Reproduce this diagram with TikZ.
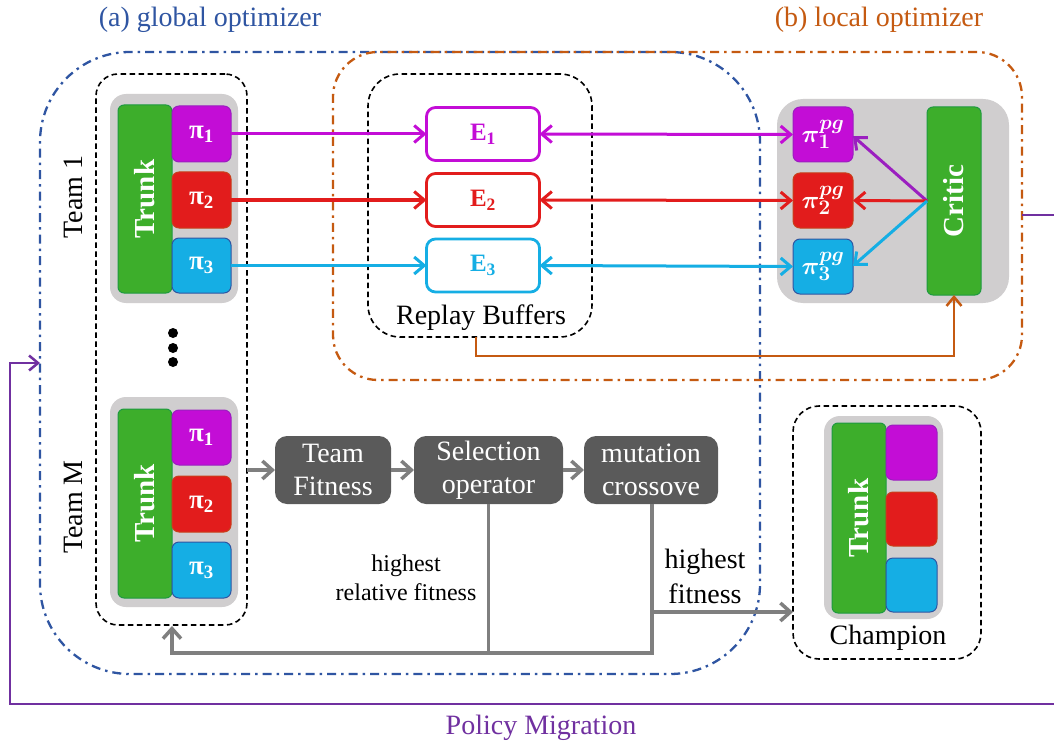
\documentclass[tikz,border=0pt]{standalone}
\usepackage{fontspec}
\setmainfont{Liberation Serif}
\usepackage{bm}
\usetikzlibrary{arrows.meta}
\definecolor{cblue}{HTML}{2F55A2}
\definecolor{corange}{HTML}{C55A11}
\definecolor{cpurple}{HTML}{7030A0}
\definecolor{cmag}{HTML}{C30DD6}
\definecolor{cmagb}{HTML}{9B1FC0}
\definecolor{cred}{HTML}{E21C1C}
\definecolor{credb}{HTML}{C8401A}
\definecolor{ccyan}{HTML}{15AEE4}
\definecolor{ccyanb}{HTML}{2F55A2}
\definecolor{cgreen}{HTML}{3DAE2B}
\definecolor{cgreenb}{HTML}{1E9A40}
\definecolor{cpanel}{HTML}{D0CECF}
\definecolor{cdark}{HTML}{5A5A5A}
\definecolor{cgrayarrow}{HTML}{7F7F7F}
\begin{document}
\begin{tikzpicture}[x=1pt,y=-1pt,
  every node/.style={inner sep=0pt, outer sep=0pt},
  ddash/.style={draw=black, line width=1.6pt, dash pattern=on 5.5pt off 3.5pt},
  panel/.style={fill=cpanel, rounded corners=16pt},
  trunk/.style={fill=cgreen, draw=cgreenb, line width=1pt, rounded corners=6pt, rotate=90, minimum width=#1, minimum height=54pt, text=white, font=\fontsize{29}{30}\selectfont\bfseries},
  pibox/.style={fill=#1, rounded corners=7pt, minimum width=59pt, minimum height=56pt, text=white, font=\fontsize{27}{28}\selectfont\bfseries},
  ebox/.style={draw=#1, fill=white, line width=2.8pt, rounded corners=9pt, minimum width=113pt, minimum height=53pt, text=#1, font=\fontsize{25}{26}\selectfont\bfseries},
  opbox/.style={fill=cdark, rounded corners=12pt, minimum height=68pt, text=white, align=center, font=\fontsize{28}{33}\selectfont},
  lbl/.style={font=\fontsize{28}{30}\selectfont},
  colarrow/.style={draw=#1, line width=3pt, -{Straight Barb[length=10pt,width=17pt,line width=3pt]}},
  colarrow2/.style={draw=#1, line width=3pt, {Straight Barb[length=10pt,width=17pt,line width=3pt]}-{Straight Barb[length=10pt,width=17pt,line width=3pt]}},
  grayarrow/.style={draw=cgrayarrow, line width=3.5pt, -{Straight Barb[length=10pt,width=18pt,line width=3.5pt]}},
  grayline/.style={draw=cgrayarrow, line width=3.5pt},
  dotn/.style={circle, fill=black, minimum size=10pt},
  ddot/.style={line width=2.3pt, dash pattern=on 9pt off 5pt on 2.5pt off 5pt}
]
\useasboundingbox (0,0) rectangle (1054,746);
\clip (0,0) rectangle (1054,746);
\fill[white] (0,0) rectangle (1054,746);

% titles
\node[text=cblue, font=\fontsize{28}{30}\selectfont] (tA) at (210,20) {(a) global optimizer};
\node[text=corange, font=\fontsize{28}{30}\selectfont] (tB) at (879,20) {(b) local optimizer};

% big containers
\node[draw=cblue, ddot, rounded corners=90pt, minimum width=720pt, minimum height=622pt] (glob) at (400,363) {};
\node[draw=corange, ddot, rounded corners=45pt, minimum width=689pt, minimum height=328pt] (loc) at (677.5,216) {};

% team dashed box
\node[ddash, rounded corners=22pt, minimum width=151pt, minimum height=551pt] (teams) at (171.5,349.5) {};

% Team 1
\node[panel, minimum width=128pt, minimum height=209pt] (p1) at (174,198.5) {};
\node[trunk=188pt] (tr1) at (145,199) {Trunk};
\node[pibox=cmag, draw=cmagb, line width=1pt] (a1) at (201.5,134) {π\textsubscript{1}};
\node[pibox=cred, draw=credb, line width=1pt] (a2) at (201.5,200) {π\textsubscript{2}};
\node[pibox=ccyan, draw=ccyanb, line width=1pt, minimum height=55pt] (a3) at (201.5,265.5) {π\textsubscript{3}};
\node[lbl, rotate=90] (team1) at (73,197) {Team 1};

% dots
\node[dotn] (d1) at (173,333) {};
\node[dotn] (d2) at (173,348) {};
\node[dotn] (d3) at (173,362) {};

% Team M
\node[panel, minimum width=128pt, minimum height=210pt] (pM) at (174,502) {};
\node[trunk=189pt] (trM) at (145,503.5) {Trunk};
\node[pibox=cmag, draw=cmagb, line width=1pt, minimum height=55pt] (b1) at (201.5,437.5) {π\textsubscript{1}};
\node[pibox=cred, draw=credb, line width=1pt] (b2) at (201.5,504) {π\textsubscript{2}};
\node[pibox=ccyan, draw=ccyanb, line width=1pt] (b3) at (201.5,570) {π\textsubscript{3}};
\node[lbl, rotate=90] (teamM) at (73,507) {Team M};

% replay buffers
\node[ddash, rounded corners=32pt, minimum width=224pt, minimum height=263pt] (rb) at (480,205.5) {};
\node[lbl] (rbl) at (481,318) {Replay Buffers};
\node[ebox=cmag] (e1) at (483,134) {E\textsubscript{1}};
\node[ebox=cred] (e2) at (483,200) {E\textsubscript{2}};
\node[ebox=ccyan] (e3) at (483,265.5) {E\textsubscript{3}};

% local panel
\node[panel, rounded corners=26pt, minimum width=232pt, minimum height=204pt] (lp) at (893,201) {};
\node[pibox=cmag, draw=cmagb, line width=1pt, minimum width=60pt, minimum height=55pt, font=\fontsize{30}{30}\selectfont] (g1) at (823,134.5) {$\bm{\pi^{pg}_1}$};
\node[pibox=cred, draw=credb, line width=1pt, minimum width=60pt, minimum height=55pt, font=\fontsize{30}{30}\selectfont] (g2) at (823,200.5) {$\bm{\pi^{pg}_2}$};
\node[pibox=ccyan, draw=ccyanb, line width=1pt, minimum width=60pt, minimum height=55pt, font=\fontsize{30}{30}\selectfont] (g3) at (823,266.5) {$\bm{\pi^{pg}_3}$};
\node[trunk=188pt] (critic) at (954,201) {Critic};

% operators
\node[opbox, minimum width=116pt] (fit) at (333,470) {Team\\Fitness};
\node[opbox, minimum width=149pt] (sel) at (488.5,470) {Selection\\operator};
\node[opbox, minimum width=134pt] (mut) at (651,470) {mutation\\crossove};

% champion
\node[ddash, rounded corners=26pt, minimum width=188pt, minimum height=253pt] (champ) at (887,532.5) {};
\node[panel, minimum width=119pt, minimum height=203pt] (cp) at (883.5,517.5) {};
\node[trunk=190pt] (ctr) at (859,518) {Trunk};
\node[fill=cmag, draw=cmagb, line width=1pt, rounded corners=7pt, minimum width=51pt, minimum height=55pt] (c1) at (911.5,452.5) {};
\node[fill=cred, draw=credb, line width=1pt, rounded corners=7pt, minimum width=51pt, minimum height=54pt] (c2) at (911.5,519) {};
\node[fill=ccyan, draw=ccyanb, line width=1pt, rounded corners=7pt, minimum width=51pt, minimum height=54pt] (c3) at (911.5,585) {};
\node[lbl] (champl) at (888,638) {Champion};

% labels
\node[align=center, font=\fontsize{24}{29}\selectfont] (hrf) at (406,578) {highest\\relative fitness};
\node[align=center, font=\fontsize{28}{35}\selectfont] (hf) at (705,576) {highest\\fitness};

% colored arrows pi -> E
\draw[colarrow=cmag] (a1.east) -- (e1.west);
\draw[colarrow=cred] (a2.east) -- (e2.west);
\draw[colarrow=ccyan] (a3.east) -- (e3.west);
% E <-> pi^pg
\draw[colarrow2=cmag] (e1.east) -- (g1.west);
\draw[colarrow2=cred] (e2.east) -- (g2.west);
\draw[colarrow2=ccyan] (e3.east) -- (g3.west);
% critic -> pi^pg
\coordinate (cw) at (927,201);
\draw[colarrow=cmagb] (cw) -- (853,136);
\draw[colarrow=cred] (cw) -- (g2.east);
\draw[colarrow=ccyan] (cw) -- (853,266);
% replay -> critic
\coordinate (ro) at (476,356);
\draw[draw=corange, line width=2.5pt, -{Straight Barb[length=9pt,width=15pt,line width=2.5pt]}] (rb.south -| ro) -- (ro) -- (ro -| critic) -- (critic.west);

% gray flow
\draw[grayarrow] (teams.east |- fit) -- (fit.west);
\draw[grayarrow] (fit.east) -- (sel.west);
\draw[grayarrow] (sel.east) -- (mut.west);
\coordinate (fb) at (652,653);
\draw[grayline] (sel.south) -- (sel.south |- fb);
\draw[grayarrow] (mut.south -| fb) -- (fb) -- (172,653) -- (172,626);
\coordinate (hfa) at (652,612);
\draw[grayarrow] (hfa) -- (hfa -| champ.west);

% policy migration
\coordinate (pm0) at (1022,215);
\coordinate (pm1) at (1080,215);
\coordinate (pm2) at (1080,704);
\coordinate (pm3) at (10,704);
\coordinate (pm4) at (10,363);
\draw[draw=cpurple, line width=2.5pt, -{Straight Barb[length=9pt,width=15pt,line width=2.5pt]}] (pm0) -- (pm1) -- (pm2) -- (pm3) -- (pm4) -- (glob.west |- pm4);
\node[text=cpurple, font=\fontsize{28}{30}\selectfont] (pml) at (541,728) {Policy Migration};
\end{tikzpicture}
\end{document}
